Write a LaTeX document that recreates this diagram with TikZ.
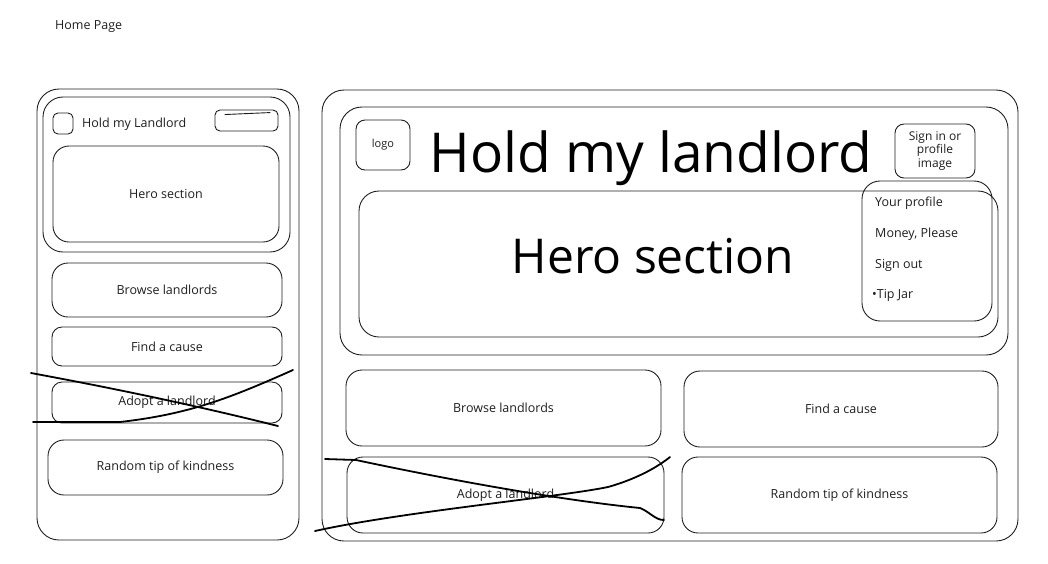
\documentclass[tikz,border=0pt]{standalone}
\usepackage{fontspec}
\setmainfont{Open Sans}
\usepackage{tikz}
\usetikzlibrary{positioning, calc}
\definecolor{ink}{RGB}{30, 30, 30}
\tikzset{
    sketchbox/.style={draw=ink, rectangle, rounded corners=16pt, line width=0.9pt, align=center, font=\fontsize{12.5}{14}\selectfont, text=ink, inner sep=0pt},
    framebox/.style={sketchbox, rounded corners=22pt},
    smallbox/.style={sketchbox, rounded corners=7pt},
    itemtext/.style={font=\fontsize{12.5}{14}\selectfont, text=ink, anchor=west, inner sep=0pt},
    bigtext/.style={font=\fontsize{55}{60}\selectfont, text=black, anchor=base, inner sep=0pt},
    strike/.style={draw=black, line width=1.8pt, line cap=round},
}
\begin{document}
\begin{tikzpicture}[x=1pt, y=-1pt]
    \useasboundingbox (0,0) rectangle (1048,563);

    % Page title
    \node[itemtext] (pagetitle) at (55,27) {Home Page};

    % Mobile layout
    \node[framebox, minimum width=262pt, minimum height=451pt] (mframe) at (168,314.5) {};
    \node[sketchbox, rounded corners=20pt, minimum width=247pt, minimum height=155pt] (mheader) at (166.5,174.5) {};
    \node[smallbox, rounded corners=5pt, minimum width=20pt, minimum height=21pt] (mlogo) at (63,123.5) {};
    \node[itemtext] (mtitle) at (82,124) {Hold my Landlord};
    \node[smallbox, rounded corners=5pt, minimum width=63pt, minimum height=21pt] (mmenu) at (246.5,120.5) {};
    \draw[draw=ink, line width=0.9pt] ($(mmenu.north west)+(10,5)$) -- ($(mmenu.north east)+(-8,3)$);
    \node[sketchbox, minimum width=226pt, minimum height=96pt] (mhero) at (166,194) {Hero section};
    \node[sketchbox, minimum width=230pt, minimum height=54pt] (mbrowse) at (167,290) {Browse landlords};
    \node[sketchbox, rounded corners=10pt, minimum width=230pt, minimum height=39pt] (mcause) at (167,346.5) {Find a cause};
    \node[sketchbox, rounded corners=10pt, minimum width=230pt, minimum height=41pt] (madopt) at (167,402.5) {Adopt a landlord};
    \node[sketchbox, minimum width=235pt, minimum height=55pt] (mtip) at (165.5,467.5) {Random tip of kindness};

    % Mobile strike-through
    \draw[strike] (31,373) .. controls (150,395) and (230,414) .. (278,426);
    \draw[strike] (33,422) -- (120,422) .. controls (190,414) and (230,398) .. (293,370);

    % Desktop layout
    \node[framebox, minimum width=696pt, minimum height=451pt] (dframe) at (670,315.5) {};
    \node[framebox, minimum width=668pt, minimum height=248pt] (dheader) at (674,231) {};
    \node[smallbox, rounded corners=9pt, minimum width=54pt, minimum height=50pt, font=\fontsize{11}{13}\selectfont] (dlogo) at (383,145) {logo};
    \node[bigtext] (dtitle) at (651,172) {Hold my landlord};
    \node[smallbox, rounded corners=9pt, minimum width=80pt, minimum height=54pt, font=\fontsize{12}{13.5}\selectfont] (dsign) at (935,151) {Sign in or\\profile\\image};
    \node[sketchbox, rounded corners=20pt, minimum width=639pt, minimum height=146pt] (dhero) at (678.5,264) {};
    \node[bigtext, font=\fontsize{48}{52}\selectfont] (herotext) at (653,273) {Hero section};

    % Profile dropdown
    \node[sketchbox, rounded corners=18pt, minimum width=130pt, minimum height=140pt] (ddrop) at (927,251) {};
    \node[itemtext] (iprofile) at (875,203) {Your profile};
    \node[itemtext] (imoney) at (875,234) {Money, Please};
    \node[itemtext] (isignout) at (875,265) {Sign out};
    \node[itemtext] (itipjar) at (872,295) {\textbullet Tip Jar};

    % Desktop cards
    \node[sketchbox, minimum width=315pt, minimum height=76pt] (dbrowse) at (503.5,408) {Browse landlords};
    \node[sketchbox, minimum width=314pt, minimum height=76pt] (dcause) at (841,409) {Find a cause};
    \node[sketchbox, minimum width=317pt, minimum height=76pt] (dadopt) at (505.5,495) {Adopt a landlord};
    \node[sketchbox, minimum width=315pt, minimum height=76pt] (dtip) at (839.5,495) {Random tip of kindness};

    % Desktop strike-through
    \draw[strike] (325,459) -- (356,460) .. controls (450,480) and (560,500) .. (640,508) .. controls (650,512) and (655,520) .. (664,520);
    \draw[strike] (315,531) .. controls (400,512) and (560,497) .. (608,487) .. controls (640,478) and (660,465) .. (670,457);
\end{tikzpicture}
\end{document}
